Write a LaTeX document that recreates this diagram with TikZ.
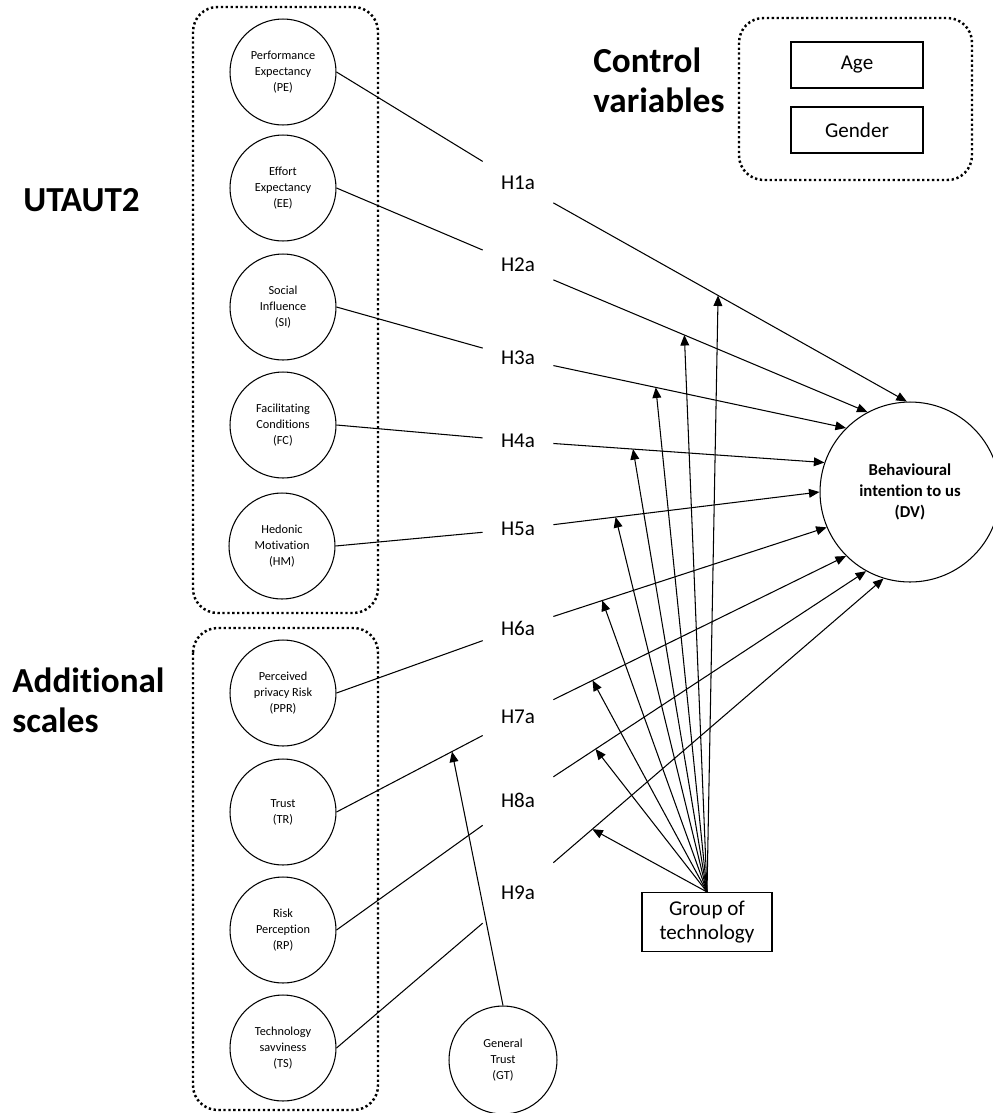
\documentclass[tikz,border=0pt]{standalone}
\usepackage{fontspec}
\setmainfont{Carlito}[Ligatures=NoCommon]
\usetikzlibrary{arrows.meta}
\begin{document}
\begin{tikzpicture}[x=0.02cm,y=-0.02cm,
  every node/.style={font=\fontsize{12}{14}\selectfont},
  var/.style={circle,draw,line width=0.6pt,minimum size=2.12cm,inner sep=0pt,align=center,font=\fontsize{7}{9}\selectfont},
  hyp/.style={minimum width=1.4cm,minimum height=1.4cm,inner sep=0pt},
  grpbox/.style={draw,rounded corners=14pt,line width=1.4pt,dash pattern=on 1.3pt off 1.5pt},
  link/.style={line width=0.6pt},
  arr/.style={line width=0.6pt,-{Triangle[length=6pt,width=5pt]}},
  heading/.style={font=\fontsize{20}{23}\selectfont\bfseries,align=left,anchor=west,inner sep=0pt},
  rectbox/.style={draw,line width=0.6pt,align=center,font=\fontsize{12}{14}\selectfont}
]
\useasboundingbox (0,0) rectangle (993,1113);

% frames
\draw[grpbox] (193,7) rectangle (378,613);
\draw[grpbox] (193,628) rectangle (378,1110);
\draw[grpbox] (739,18) rectangle (972,180);

% headings
\node[heading] (utaut) at (23,200) {UTAUT2};
\node[heading] (addl) at (12,700) {Additional\\scales};
\node[heading] (ctrl) at (593,80) {Control\\variables};

% control variables
\node[rectbox,minimum width=2.64cm,minimum height=0.92cm] (age) at (857,65) {Age};
\node[rectbox,minimum width=2.64cm,minimum height=0.92cm] (gender) at (857,130) {Gender};

% constructs
\node[var] (PE) at (283,72) {Performance\\Expectancy\\(PE)};
\node[var] (EE) at (283,188) {Effort\\Expectancy\\(EE)};
\node[var] (SI) at (283,307) {Social\\Influence\\(SI)};
\node[var] (FC) at (283,425) {Facilitating\\Conditions\\(FC)};
\node[var] (HM) at (282,546) {Hedonic\\Motivation\\(HM)};
\node[var] (PPR) at (283,693) {Perceived\\privacy Risk\\(PPR)};
\node[var] (TR) at (283,812) {Trust\\(TR)};
\node[var] (RP) at (283,930) {Risk\\Perception\\(RP)};
\node[var] (TS) at (283,1048) {Technology\\savviness\\(TS)};
\node[var,minimum size=2.16cm] (GT) at (503,1060) {General\\Trust\\(GT)};

% dependent variable
\node[circle,draw,line width=0.6pt,minimum size=3.6cm,inner sep=0pt,align=center,
  font=\fontsize{9.5}{12}\selectfont\bfseries] (DV) at (910,492) {Behavioural\\intention to us\\(DV)};

% moderator box
\node[rectbox,minimum width=2.6cm,minimum height=1.18cm] (tech) at (707,922) {Group of\\technology};

% hypothesis labels
\node[hyp] (H1) at (518,183) {H1a};
\node[hyp] (H2) at (518,265) {H2a};
\node[hyp] (H3) at (518,358) {H3a};
\node[hyp] (H4) at (518,441) {H4a};
\node[hyp] (H5) at (518,529) {H5a};
\node[hyp] (H6) at (518,628) {H6a};
\node[hyp] (H7) at (518,717) {H7a};
\node[hyp] (H8) at (518,800) {H8a};
\node[hyp] (H9) at (518,893) {H9a};

% construct -> label
\draw[link] (PE.east) -- (H1);
\draw[link] (EE.east) -- (H2);
\draw[link] (SI.east) -- (H3);
\draw[link] (FC.east) -- (H4);
\draw[link] (HM.east) -- (H5);
\draw[link] (PPR.east) -- (H6);
\draw[link] (TR.east) -- coordinate[pos=0.79] (mt) (H7);
\draw[link] (RP.east) -- (H8);
\draw[link] (TS.east) -- (H9);

% label -> DV
\draw[arr] (H1) -- coordinate[pos=0.466] (m1) (DV.92);
\draw[arr] (H2) -- coordinate[pos=0.417] (m2) (DV.118);
\draw[arr] (H3) -- coordinate[pos=0.35] (m3) (DV.135);
\draw[arr] (H4) -- coordinate[pos=0.294] (m4) (DV.161);
\draw[arr] (H5) -- coordinate[pos=0.234] (m5) (DV.180);
\draw[arr] (H6) -- coordinate[pos=0.179] (m6) (DV.203);
\draw[arr] (H7) -- coordinate[pos=0.134] (m7) (DV.225);
\draw[arr] (H8) -- coordinate[pos=0.135] (m8) (DV.241);
\draw[arr] (H9) -- coordinate[pos=0.118] (m9) (DV.253);

% moderation arrows
\foreach \m in {m1,m2,m3,m4,m5,m6,m7,m8,m9}
  \draw[arr] (tech.north) -- (\m);
\draw[arr] (GT.north) -- (mt);
\end{tikzpicture}
\end{document}
